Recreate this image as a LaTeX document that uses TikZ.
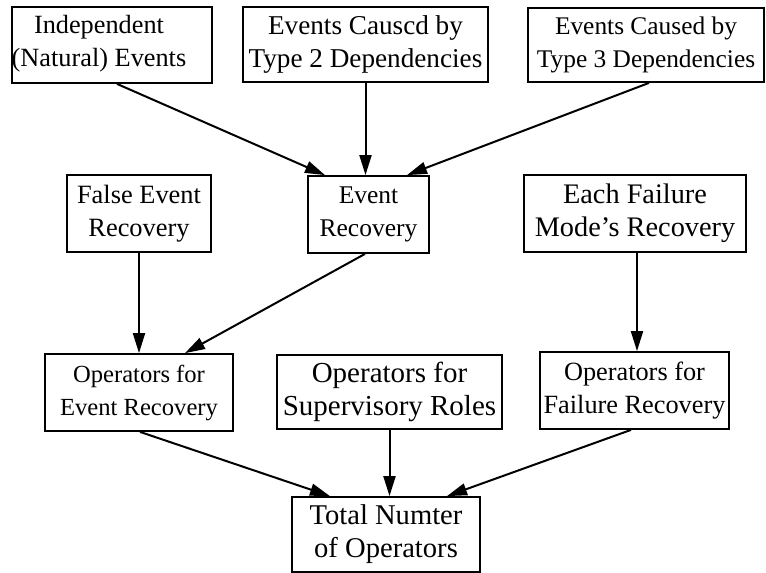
\documentclass[tikz,border=0pt]{standalone}
\usepackage{fontspec}
\setmainfont{Liberation Serif}
\usetikzlibrary{arrows.meta}
\newcommand{\fs}[1]{\fontsize{#1}{33pt}\selectfont}
\tikzset{
  box/.style={draw, line width=1.8pt, rectangle, inner sep=0pt, align=center, fill=white},
  flow/.style={line width=2pt, -{Triangle[length=20pt, width=12pt]}}
}
\begin{document}
\begin{tikzpicture}[x=1pt, y=-1pt]
  \useasboundingbox (0,0) rectangle (766,573);

  % top row: sources of events
  \node[box, minimum width=200pt, minimum height=76pt] (A) at (112,45) {};
  \node[align=center, font=\fs{26.3}] (At) at (99,44) {Independent\\(Natural) Events};
  \node[box, minimum width=245pt, minimum height=75pt, font=\fs{27.2}] (B) at (365.5,44.5)
    {Events Causcd by\\Type 2 Dependencies};
  \node[box, minimum width=236pt, minimum height=74pt, font=\fs{25.4}] (C) at (646,45)
    {Events Caused by\\Type 3 Dependencies};

  % middle row: recovery kinds
  \node[box, minimum width=144pt, minimum height=77pt, font=\fs{26.4}] (F) at (139,213.5)
    {False Event\\Recovery};
  \node[box, minimum width=121pt, minimum height=77pt, font=\fs{25.5}] (E) at (368.5,214.5)
    {Event\\Recovery};
  \node[box, minimum width=222pt, minimum height=77pt, font=\fs{28.3}] (M) at (635,213.5)
    {Each Failure\\Mode's Recovery};

  % operator groups
  \node[box, minimum width=188pt, minimum height=77pt, font=\fs{24.6}] (OE) at (139,392.5)
    {Operators for\\Event Recovery};
  \node[box, minimum width=225pt, minimum height=74pt, font=\fs{29}] (S) at (389.5,392)
    {Operators for\\Supervisory Roles};
  \node[box, minimum width=189pt, minimum height=77pt, font=\fs{26.3}] (OF) at (634.5,390.5)
    {Operators for\\Failure Recovery};

  % total
  \node[box, minimum width=188pt, minimum height=75pt, font=\fs{28.6}] (T) at (386,534.5)
    {Total Numter\\of Operators};

  % connectors
  \draw[flow] ([xshift=5pt]A.south) -- ([xshift=-43.5pt]E.north);
  \draw[flow] (B.south) -- (B.south |- E.north);
  \draw[flow] ([xshift=3pt]C.south) -- ([xshift=38.5pt]E.north);

  \draw[flow] (F.south) -- (F.south |- OE.north);
  \draw[flow] ([xshift=-3.5pt]E.south) -- ([xshift=46pt]OE.north);
  \draw[flow] ([xshift=2pt]M.south) -- ([xshift=2pt]M.south |- OF.north);

  \draw[flow] ([xshift=1pt]OE.south) -- ([xshift=-56pt]T.north);
  \draw[flow] (S.south) -- (S.south |- T.north);
  \draw[flow] ([xshift=-3.5pt]OF.south) -- ([xshift=61pt]T.north);
\end{tikzpicture}
\end{document}
